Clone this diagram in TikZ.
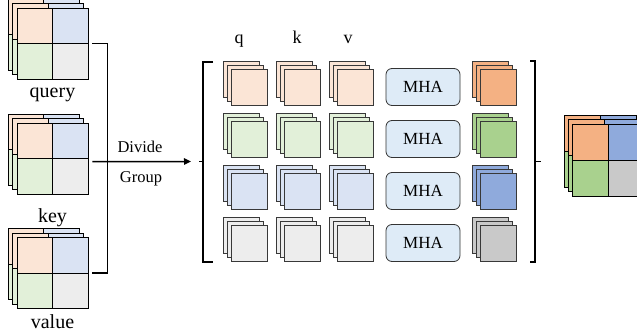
\documentclass[tikz,border=0pt]{standalone}
\usepackage{fontspec}
\setmainfont{Liberation Serif}
\usetikzlibrary{arrows.meta}

\definecolor{qLight}{HTML}{FBE5D6}
\definecolor{gLight}{HTML}{E2F0D9}
\definecolor{bLight}{HTML}{DAE3F3}
\definecolor{nLight}{HTML}{EDEDED}
\definecolor{qDark}{HTML}{F4B183}
\definecolor{gDark}{HTML}{A9D18E}
\definecolor{bDark}{HTML}{8FAADC}
\definecolor{nDark}{HTML}{C9C9C9}
\definecolor{mhaFill}{HTML}{DEEBF7}

% 2x2 feature grid with two layers stacked behind it
% #1,#2 front top-left corner, #3 cell size, #4 layer offset, #5 Light/Dark, #6 node name
\newcommand\quadgrid[6]{%
  \foreach \l in {2,1}{
    \begin{scope}[shift={({#1-\l*#4},{#2-\l*#4})}]
      \filldraw[gridline,fill=q#5] (0,0) rectangle (#3,#3);
      \filldraw[gridline,fill=b#5] (#3,0) rectangle ({2*#3},#3);
      \filldraw[gridline,fill=g#5] (0,#3) rectangle (#3,{2*#3});
      \filldraw[gridline,fill=n#5] (#3,#3) rectangle ({2*#3},{2*#3});
    \end{scope}
  }
  \begin{scope}[shift={(#1,#2)}]
    \filldraw[gridline,fill=q#5] (0,0) rectangle (#3,#3);
    \filldraw[gridline,fill=b#5] (#3,0) rectangle ({2*#3},#3);
    \filldraw[gridline,fill=g#5] (0,#3) rectangle (#3,{2*#3});
    \filldraw[gridline,fill=n#5] (#3,#3) rectangle ({2*#3},{2*#3});
  \end{scope}
  \node[inner sep=0pt,minimum size={2*#3},anchor=north west] (#6) at (#1,#2) {};
}

% stack of three equal squares, back one at #1,#2
\newcommand\squarestack[4]{%
  \node[sq,fill=#3] (#4c) at (#1,#2) {};
  \node[sq,fill=#3] (#4b) at ({#1+4},{#2+4}) {};
  \node[sq,fill=#3] (#4) at ({#1+8},{#2+8}) {};
}

\begin{document}
\begin{tikzpicture}[x=1pt,y=-1pt,
  gridline/.style={draw=black,line width=0.8pt},
  sq/.style={draw=black!78,line width=0.8pt,minimum size=36pt,inner sep=0pt,anchor=north west},
  mhabox/.style={draw=black!80,line width=0.8pt,fill=mhaFill,rounded corners=6pt,
    minimum width=74pt,minimum height=37pt,inner sep=0pt,font=\fontsize{17}{20}\selectfont},
  namelbl/.style={anchor=base,inner sep=0pt,font=\fontsize{20}{24}\selectfont},
  collbl/.style={anchor=base,inner sep=0pt,font=\fontsize{18}{22}\selectfont},
  steplbl/.style={anchor=base,inner sep=0pt,font=\fontsize{16.5}{20}\selectfont},
  wire/.style={draw=black,line width=1.5pt},
  bracketline/.style={draw=black,line width=1.5pt},
]
\clip (0,0) rectangle (637,334);
\fill[white] (0,0) rectangle (637,334);

% inputs
\quadgrid{17}{8}{35.5}{4.5}{Light}{query}
\quadgrid{17}{123}{35.5}{4.5}{Light}{key}
\quadgrid{17}{237.5}{35.5}{4.5}{Light}{value}
\node[namelbl] (querylbl) at (52.5,98) {query};
\node[namelbl] (keylbl) at (52.5,222) {key};
\node[namelbl] (valuelbl) at (52.5,328) {value};

% grouping bracket with the grouped heads
\coordinate (grpW) at (191,161.5);
\coordinate (grpE) at (541,161.5);
\draw[wire] ([xshift=4pt]query.east) -- ++(15,0) |- ([xshift=4pt]value.east);
\draw[wire,-{Triangle[length=7pt,width=6.5pt]}] ([shift={(4,3)}]key.east) -- (grpW);
\node[steplbl] (dividelbl) at (140,153) {Divide};
\node[steplbl] (grouplbl) at (141,182) {Group};

\draw[bracketline] (213,62) -- (203,62) -- (203,262) -- (213,262);
\draw[bracketline] (203,161.5) -- (199,161.5);
\draw[bracketline] (530,61) -- (535,61) -- (535,262) -- (530,262);
\draw[bracketline] (535,161.5) -- (grpE);

\node[collbl] (qlbl) at (239,44) {q};
\node[collbl] (klbl) at (297,44) {k};
\node[collbl] (vlbl) at (348,44) {v};

\foreach \r/\cl/\dk [count=\i] in {61/qLight/qDark,113/gLight/gDark,165/bLight/bDark,217/nLight/nDark}{
  \squarestack{223}{\r}{\cl}{q\i}
  \squarestack{276}{\r}{\cl}{k\i}
  \squarestack{329}{\r}{\cl}{v\i}
  \node[mhabox] (m\i) at (423,{\r+26}) {MHA};
  \squarestack{472}{\r}{\dk}{o\i}
}

% merged output
\quadgrid{572.7}{124}{36}{4.3}{Dark}{merged}
\end{tikzpicture}
\end{document}
